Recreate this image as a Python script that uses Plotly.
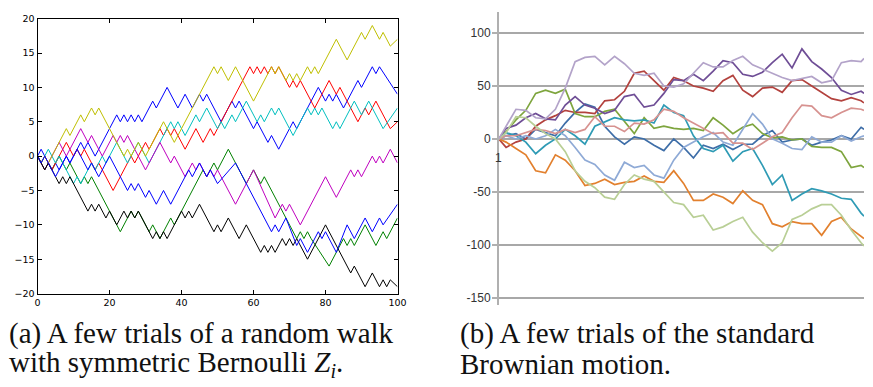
import plotly.graph_objects as go

W, H = 873, 387

# ---------------- Left panel: random walks (turning points) ----------------
walk_blue_a = [(0,0),(1,1),(4,-2),(5,-1),(6,-2),(8,0),(9,-1),(12,2),(13,1),(14,2),(16,0),(22,6),(23,5),(24,6),(25,5),(26,6),(27,5),(28,6),(29,5),(32,8),(33,7),(36,10),(39,7),(41,9),(43,7),(45,9),(46,8),(47,9),(48,8),(51,5),(54,8),(55,7),(56,8),(60,4),(61,5),(64,2),(65,3),(67,1),(71,5),(72,4),(78,10),(80,8),(81,9),(82,8),(83,9),(85,7),(89,11),(90,10),(93,13),(94,12),(95,13),(100,9)]
walk_green = [(0,0),(2,-2),(3,-1),(4,-2),(6,0),(8,-2),(9,-1),(12,-4),(13,-3),(14,-4),(15,-3),(23,-11),(26,-8),(27,-9),(28,-8),(31,-11),(32,-10),(34,-12),(37,-9),(38,-10),(46,-2),(47,-3),(49,-1),(50,-2),(53,1),(58,-4),(60,-2),(62,-4),(63,-3),(72,-12),(73,-11),(74,-12),(75,-11),(76,-12),(81,-16),(85,-12),(86,-13),(87,-12),(88,-13),(91,-10),(94,-13),(96,-11),(97,-12),(100,-9)]
walk_red = [(0,0),(1,-1),(2,0),(4,-2),(8,2),(10,0),(11,1),(12,0),(13,1),(16,-2),(17,-1),(21,-5),(26,0),(27,-1),(30,2),(31,1),(34,4),(35,3),(36,4),(37,3),(38,4),(41,1),(44,4),(46,2),(48,4),(49,3),(59,13),(60,12),(61,13),(62,12),(63,13),(64,12),(65,13),(66,12),(67,13),(70,10),(71,11),(72,10),(73,11),(77,7),(81,11),(83,9),(84,10),(89,5),(91,7),(92,6),(94,8),(98,4),(100,5)]
walk_cyan = [(0,0),(1,-1),(3,1),(5,-1),(6,0),(7,-1),(10,-4),(11,-3),(12,-4),(15,-1),(16,-2),(18,0),(19,-1),(22,2),(23,1),(25,-1),(28,2),(31,-1),(37,5),(38,4),(39,5),(41,3),(44,6),(45,5),(47,7),(50,4),(51,5),(52,4),(54,6),(55,5),(58,8),(61,5),(62,6),(63,5),(65,7),(66,6),(67,7),(71,3),(75,7),(76,6),(77,7),(78,6),(79,7),(80,6),(82,4),(83,5),(84,4),(88,8),(90,6),(92,8),(96,4),(100,7)]
walk_magenta = [(0,0),(2,-2),(6,2),(8,0),(12,4),(14,2),(15,3),(18,0),(21,3),(22,2),(23,3),(24,2),(25,3),(30,-2),(34,2),(37,-1),(38,0),(41,-3),(43,-1),(44,-2),(45,-1),(47,-3),(48,-2),(49,-3),(50,-2),(55,-7),(60,-2),(66,-9),(68,-7),(69,-8),(70,-7),(73,-10),(80,-3),(83,-6),(87,-2),(88,-3),(89,-2),(90,-3),(93,0),(94,-1),(95,0),(96,-1),(98,1),(100,-1)]
walk_yellow = [(0,0),(1,-1),(2,0),(3,-1),(8,4),(9,3),(12,6),(13,5),(15,7),(16,6),(17,7),(24,0),(25,1),(26,0),(28,2),(30,0),(35,5),(38,2),(49,13),(50,12),(51,13),(53,11),(55,13),(60,8),(65,13),(66,12),(67,13),(69,11),(70,12),(71,11),(72,12),(73,11),(75,13),(76,12),(77,13),(78,12),(83,17),(86,14),(90,18),(91,17),(93,19),(95,17),(96,18),(98,16),(100,17)]
walk_black = [(0,0),(2,-2),(3,-1),(6,-4),(7,-3),(8,-4),(9,-3),(14,-8),(15,-7),(16,-8),(17,-7),(19,-9),(20,-8),(22,-10),(24,-8),(25,-9),(26,-8),(27,-9),(28,-8),(32,-12),(33,-11),(34,-12),(35,-11),(36,-12),(40,-8),(41,-9),(42,-8),(43,-9),(45,-7),(49,-11),(50,-10),(51,-11),(53,-9),(56,-12),(58,-10),(62,-14),(63,-13),(64,-14),(65,-13),(66,-14),(68,-12),(69,-13),(70,-12),(71,-13),(72,-12),(75,-15),(80,-10),(87,-17),(88,-16),(91,-19),(93,-17),(95,-19),(96,-18),(97,-19),(98,-18),(100,-19)]
walk_blue_b = [(0,0),(1,-1),(2,0),(5,-3),(8,0),(9,-1),(11,1),(14,-2),(15,-1),(17,-3),(20,0),(25,-5),(26,-4),(27,-5),(28,-4),(30,-6),(31,-5),(33,-7),(35,-5),(37,-7),(42,-2),(43,-3),(45,-1),(47,-3),(48,-2),(50,-4),(55,-1),(65,-11),(66,-10),(67,-11),(69,-9),(72,-13),(73,-12),(75,-14),(78,-11),(79,-12),(80,-11),(83,-14),(86,-10),(88,-12),(91,-9),(93,-11),(95,-9),(96,-10),(100,-7)]

walk_series = [walk_blue_a, walk_green, walk_red, walk_cyan, walk_magenta, walk_yellow, walk_black, walk_blue_b]
walk_colors = ["#0000ff", "#008000", "#ff0000", "#00bfbf", "#bf00bf", "#bfbf00", "#000000", "#0000ff"]

walk_xticks = [0, 20, 40, 60, 80, 100]
walk_yticks = [-20, -15, -10, -5, 0, 5, 10, 15, 20]

# ---------------- Right panel: Brownian motion samples ----------------
bm_steps = [0,20,47,74,101,128,155,182,209,236,263,290,317,344,371,398,425,452,479,506,533,560,587,614,641,668,695,722,749,776,803,830,857,884,911,938,965,992,1000]
bm_blue = [0,3,5,0,9,6,3,15,25,33,30,12,2,-5,2,0,-6,-11,0,-8,-18,-6,-9,-5,-10,-5,-5,3,8,-3,-1,0,-6,-3,-1,3,0,11,9]
bm_red = [0,-8,-3,0,12,18,22,27,25,25,24,36,37,45,62,64,55,46,58,55,50,48,45,55,60,46,40,48,49,44,55,56,50,44,38,36,39,36,34]
bm_green = [0,7,18,27,43,46,43,47,24,21,21,26,28,16,5,20,10,12,10,9,10,8,20,13,5,11,14,5,1,2,-1,0,-7,-8,-8,-12,-27,-25,-27]
bm_purple = [0,10,13,20,24,19,18,32,40,32,29,24,27,40,42,30,32,43,56,55,61,55,64,74,72,61,59,63,72,80,67,85,73,66,58,46,42,45,43]
bm_teal = [0,6,3,-3,-14,-6,0,9,3,-5,12,16,20,18,17,18,15,32,25,22,3,-9,-12,-6,-21,-12,-9,-25,-43,-34,-58,-52,-47,-49,-52,-56,-57,-70,-73]
bm_orange = [0,-3,-9,-15,-30,-32,-15,-20,-30,-44,-42,-38,-43,-41,-40,-35,-40,-41,-30,-42,-58,-58,-52,-55,-61,-49,-58,-62,-80,-83,-78,-80,-80,-91,-78,-74,-85,-92,-94]
bm_lightblue = [0,3,0,3,0,3,9,3,-8,-20,-24,-34,-39,-22,-27,-25,-34,-37,-20,-8,-3,2,6,-3,-6,9,24,14,0,-4,-9,-10,2,-3,-3,3,-2,2,3]
bm_pink = [0,3,3,6,9,8,5,9,6,9,21,12,12,7,15,14,18,28,26,20,15,10,5,6,-4,-4,-10,-4,2,6,20,32,31,22,20,25,29,28,27]
bm_lightgreen = [0,6,21,20,12,5,0,-12,-30,-40,-46,-55,-57,-43,-34,-38,-40,-50,-60,-62,-74,-72,-86,-83,-78,-74,-88,-98,-106,-98,-76,-72,-66,-62,-62,-72,-86,-98,-101]
bm_lightpurple = [0,12,28,27,20,19,28,48,73,77,78,70,78,71,62,60,62,50,49,52,62,72,68,68,74,78,70,66,62,58,55,57,59,53,55,72,74,73,76]

bm_series = [bm_blue, bm_red, bm_green, bm_purple, bm_teal, bm_orange, bm_lightblue, bm_pink, bm_lightgreen, bm_lightpurple]
bm_colors = ["#3e6ea8", "#b3423e", "#7ea53e", "#6f4e96", "#2f9bb5", "#e2802e", "#8faad6", "#d79290", "#b9cf96", "#b3a3c9"]
bm_yticks = [-150, -100, -50, 0, 50, 100]
bm_yticktext = ["-150", "-100", "-50", "0", "50", "100"]

fig = go.Figure()

for pts, col in zip(walk_series, walk_colors):
    fig.add_trace(go.Scatter(
        x=[p[0] for p in pts], y=[p[1] for p in pts], mode="lines",
        line=dict(color=col, width=1), xaxis="x", yaxis="y",
        showlegend=False, hoverinfo="skip"))

for vals, col in zip(bm_series, bm_colors):
    fig.add_trace(go.Scatter(
        x=bm_steps, y=vals, mode="lines",
        line=dict(color=col, width=1.7), xaxis="x2", yaxis="y2",
        showlegend=False, hoverinfo="skip"))

def px_x(p):
    return p / W

def px_y(p):
    return 1 - p / H

tick_font_left = dict(family="DejaVu Sans", size=9.5, color="#000000")
tick_font_right = dict(family="Liberation Sans", size=12, color="#333333")
caption_font = dict(family="'Liberation Serif', 'Times New Roman', Times, serif", size=29, color="#111111")

fig.update_layout(
    width=W, height=H,
    margin=dict(l=0, r=0, t=0, b=0),
    paper_bgcolor="#ffffff", plot_bgcolor="#ffffff",
    xaxis=dict(domain=[px_x(35), px_x(400)], range=[0, 100],
               tickvals=walk_xticks, ticks="inside", ticklen=4, tickcolor="#000000",
               showline=True, linecolor="#000000", linewidth=1, mirror="ticks",
               showgrid=False, zeroline=False, tickfont=tick_font_left, anchor="y"),
    yaxis=dict(domain=[px_y(296), px_y(13)], range=[-20, 20],
               tickvals=walk_yticks, ticks="inside", ticklen=4, tickcolor="#000000",
               showline=True, linecolor="#000000", linewidth=1, mirror="ticks",
               showgrid=False, zeroline=False, tickfont=tick_font_left, anchor="x"),
    xaxis2=dict(domain=[px_x(502.7), 1.0], range=[0, 1000],
                showticklabels=False, showgrid=False, zeroline=False, showline=False,
                ticks="", anchor="y2"),
    yaxis2=dict(domain=[px_y(308), px_y(6)], range=[-157, 120],
                tickvals=bm_yticks, ticktext=bm_yticktext,
                showgrid=True, gridcolor="#a8a8a8", gridwidth=1.5,
                showline=True, linecolor="#b0b0b0", linewidth=1.5,
                ticks="outside", ticklen=5, tickcolor="#b0b0b0", tickwidth=1.5,
                ticklabelstandoff=-1,
                zeroline=False, tickfont=tick_font_right, anchor="x2"),
)

fig.add_annotation(x=0, y=0, xref="x2", yref="y2", text="1", showarrow=False,
                   yshift=-19, xanchor="center", font=dict(family="Liberation Sans", size=12, color="#333333"))

captions = [
    ("(a) A few trials of a random walk", 4, 337),
    ("with symmetric Bernoulli <i>Z<sub>i</sub></i>.", 4, 368),
    ("(b) A few trials of the standard", 461, 337),
    ("Brownian motion.", 461, 368),
]
for txt, xp, yp in captions:
    fig.add_annotation(x=px_x(xp), y=px_y(yp), xref="paper", yref="paper", text=txt,
                       showarrow=False, xanchor="left", yanchor="middle", font=caption_font)

fig.write_html("out.html", config={"displayModeBar": False},
               post_script="document.body.style.margin='0';document.body.style.overflow='hidden';")
